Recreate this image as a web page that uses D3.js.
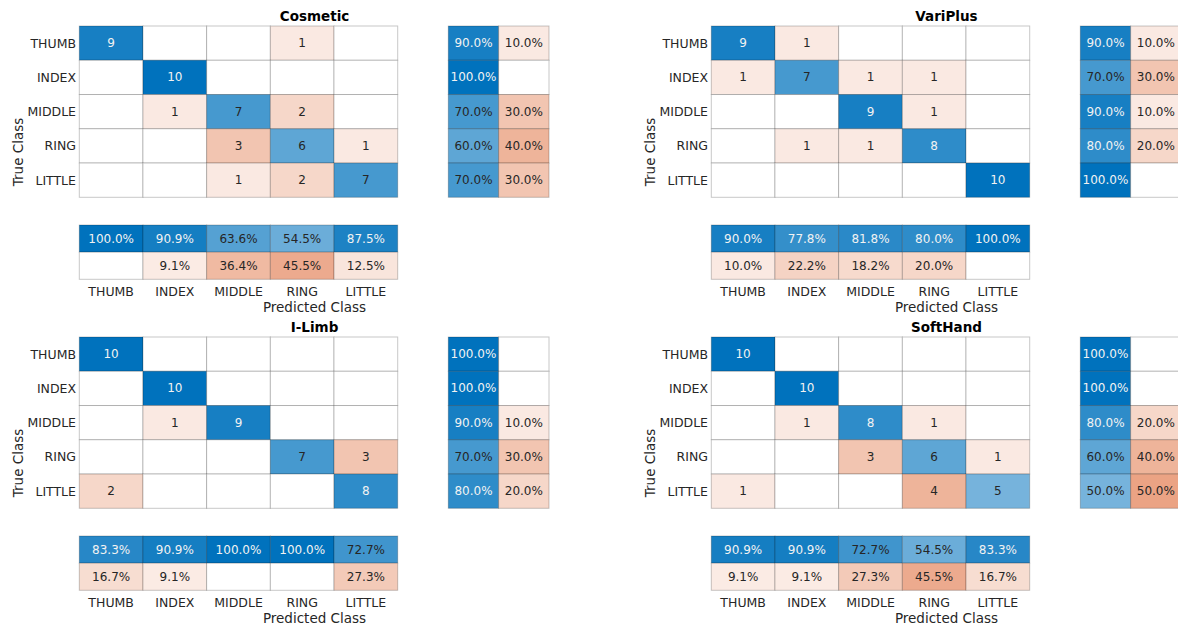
<!DOCTYPE html>
<html>
<head>
<meta charset="utf-8">
<script src="https://cdn.jsdelivr.net/npm/d3@7"></script>
<style>
  html, body { margin: 0; padding: 0; background: #fff; }
  svg { display: block; font-family: "DejaVu Sans", sans-serif; }
</style>
</head>
<body>
<svg id="chart" width="1178" height="629"></svg>
<script>
// ---------- data ----------
const classes = ["THUMB", "INDEX", "MIDDLE", "RING", "LITTLE"];
const titles = ["Cosmetic", "VariPlus", "I-Limb", "SoftHand"];

const cosmetic = [
  [9, 0, 0, 1, 0],
  [0, 10, 0, 0, 0],
  [0, 1, 7, 2, 0],
  [0, 0, 3, 6, 1],
  [0, 0, 1, 2, 7]
];
const variPlus = [
  [9, 1, 0, 0, 0],
  [1, 7, 1, 1, 0],
  [0, 0, 9, 1, 0],
  [0, 1, 1, 8, 0],
  [0, 0, 0, 0, 10]
];
const iLimb = [
  [10, 0, 0, 0, 0],
  [0, 10, 0, 0, 0],
  [0, 1, 9, 0, 0],
  [0, 0, 0, 7, 3],
  [2, 0, 0, 0, 8]
];
const softHand = [
  [10, 0, 0, 0, 0],
  [0, 10, 0, 0, 0],
  [0, 1, 8, 1, 0],
  [0, 0, 3, 6, 1],
  [1, 0, 0, 4, 5]
];
const matrices = [cosmetic, variPlus, iLimb, softHand];

// ---------- style ----------
const diagColor = d3.rgb(0, 114, 189);
const offColor = d3.rgb(217, 83, 25);
const panelOffsets = [[0, 0], [632, 0], [0, 311], [632, 311]];

const svg = d3.select("#chart");

function cellFill(isDiag, a) {
  if (a <= 0) return "#ffffff";
  const c = isDiag ? diagColor : offColor;
  const t = Math.pow(a, 0.9);
  return d3.interpolateRgb("#ffffff", c)(t);
}
function textFill(isDiag, a) {
  return (isDiag && a >= 0.75) ? "#f2f2f2" : "#262626";
}
const pct = v => (v * 100).toFixed(1) + "%";

function drawPanel(p) {
  const [ox, oy] = panelOffsets[p];
  const M = matrices[p];
  const maxV = d3.max(M.flat());
  const g = svg.append("g");

  const x = d3.scaleBand().domain(classes).range([ox + 79.3, ox + 397.7]);
  const y = d3.scaleBand().domain(classes).range([oy + 26, oy + 197.3]);
  const xr = d3.scaleBand().domain(["ok", "bad"]).range([ox + 448.3, ox + 549]);
  const yc = d3.scaleBand().domain(["ok", "bad"]).range([oy + 225, oy + 279.3]);

  // main matrix
  const cells = [];
  M.forEach((row, i) => row.forEach((v, j) => cells.push({ r: classes[i], c: classes[j], v, diag: i === j })));
  const cg = g.selectAll("g.cell").data(cells).enter().append("g");
  cg.append("rect")
    .attr("x", d => x(d.c)).attr("y", d => y(d.r))
    .attr("width", x.bandwidth()).attr("height", y.bandwidth())
    .attr("fill", d => cellFill(d.diag, d.v / maxV))
    .attr("stroke", "#000").attr("stroke-opacity", 0.22).attr("stroke-width", 1);
  cg.filter(d => d.v > 0).append("text")
    .attr("x", d => x(d.c) + x.bandwidth() / 2)
    .attr("y", d => y(d.r) + y.bandwidth() / 2)
    .attr("text-anchor", "middle").attr("dominant-baseline", "central")
    .attr("font-size", "12px")
    .attr("fill", d => textFill(d.diag, d.v / maxV))
    .text(d => d.v);

  // row summary
  const rs = [];
  M.forEach((row, i) => {
    const tot = d3.sum(row);
    const ok = row[i] / tot;
    rs.push({ r: classes[i], k: "ok", v: ok, diag: true });
    rs.push({ r: classes[i], k: "bad", v: 1 - ok, diag: false });
  });
  const rg = g.selectAll("g.rs").data(rs).enter().append("g");
  rg.append("rect")
    .attr("x", d => xr(d.k)).attr("y", d => y(d.r))
    .attr("width", xr.bandwidth()).attr("height", y.bandwidth())
    .attr("fill", d => cellFill(d.diag, d.v))
    .attr("stroke", "#000").attr("stroke-opacity", 0.22);
  rg.filter(d => d.v > 1e-9).append("text")
    .attr("x", d => xr(d.k) + xr.bandwidth() / 2)
    .attr("y", d => y(d.r) + y.bandwidth() / 2)
    .attr("text-anchor", "middle").attr("dominant-baseline", "central")
    .attr("font-size", "12px")
    .attr("fill", d => textFill(d.diag, d.v))
    .text(d => pct(d.v));

  // column summary
  const cs = [];
  classes.forEach((c, j) => {
    const tot = d3.sum(M, row => row[j]);
    const ok = M[j][j] / tot;
    cs.push({ c, k: "ok", v: ok, diag: true });
    cs.push({ c, k: "bad", v: 1 - ok, diag: false });
  });
  const csg = g.selectAll("g.cs").data(cs).enter().append("g");
  csg.append("rect")
    .attr("x", d => x(d.c)).attr("y", d => yc(d.k))
    .attr("width", x.bandwidth()).attr("height", yc.bandwidth())
    .attr("fill", d => cellFill(d.diag, d.v))
    .attr("stroke", "#000").attr("stroke-opacity", 0.22);
  csg.filter(d => d.v > 1e-9).append("text")
    .attr("x", d => x(d.c) + x.bandwidth() / 2)
    .attr("y", d => yc(d.k) + yc.bandwidth() / 2)
    .attr("text-anchor", "middle").attr("dominant-baseline", "central")
    .attr("font-size", "12px")
    .attr("fill", d => textFill(d.diag, d.v))
    .text(d => pct(d.v));

  // row tick labels
  g.selectAll("text.ry").data(classes).enter().append("text")
    .attr("x", ox + 76).attr("y", d => y(d) + y.bandwidth() / 2)
    .attr("text-anchor", "end").attr("dominant-baseline", "central")
    .attr("font-size", "12.5px").attr("fill", "#262626").text(d => d);

  // column tick labels
  g.selectAll("text.cx").data(classes).enter().append("text")
    .attr("x", d => x(d) + x.bandwidth() / 2).attr("y", oy + 291)
    .attr("text-anchor", "middle").attr("dominant-baseline", "central")
    .attr("font-size", "12.5px").attr("fill", "#262626").text(d => d);

  // axis labels
  g.append("text").attr("x", ox + 314.5).attr("y", oy + 306.7)
    .attr("text-anchor", "middle").attr("dominant-baseline", "central")
    .attr("font-size", "13.5px").attr("fill", "#262626").text("Predicted Class");
  g.append("text")
    .attr("transform", `translate(${ox + 18},${oy + 152}) rotate(-90)`)
    .attr("text-anchor", "middle").attr("dominant-baseline", "central")
    .attr("font-size", "13.5px").attr("fill", "#262626").text("True Class");

  // title
  g.append("text").attr("x", ox + 314.5).attr("y", oy + 15.7)
    .attr("text-anchor", "middle").attr("dominant-baseline", "central")
    .attr("font-size", "13.5px").attr("font-weight", "bold").attr("fill", "#000")
    .text(titles[p]);
}

for (let p = 0; p < 4; p++) drawPanel(p);
</script>
</body>
</html>
